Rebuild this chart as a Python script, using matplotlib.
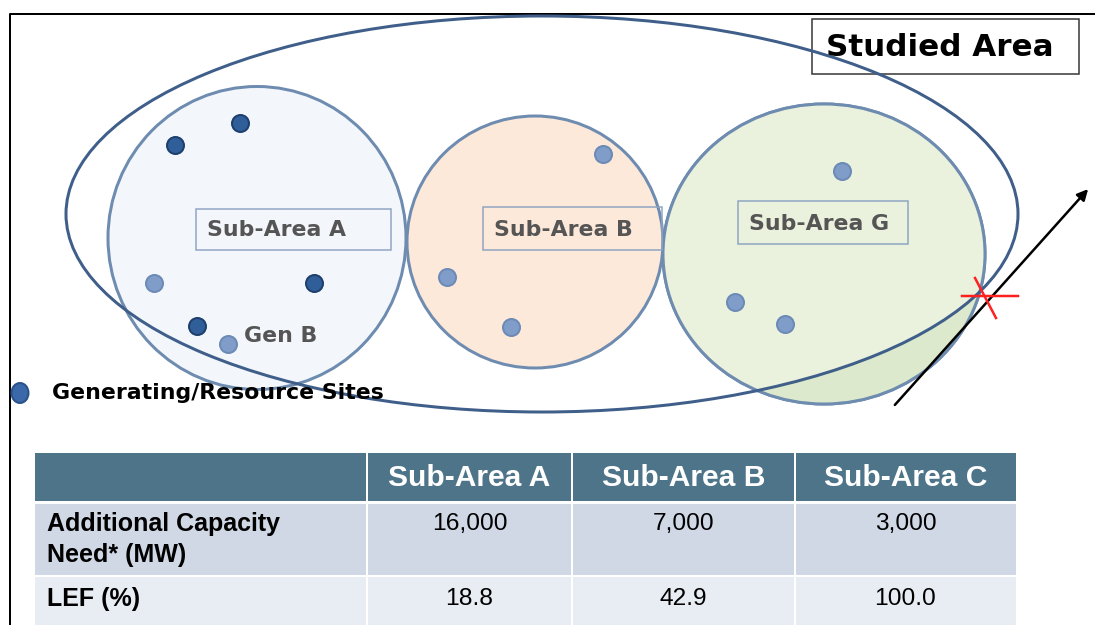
import matplotlib
matplotlib.use("Agg")
import matplotlib.pyplot as plt
from matplotlib.patches import Ellipse, Rectangle, FancyArrowPatch

# ---- data ----
sub_areas = ["Sub-Area A", "Sub-Area B", "Sub-Area C"]
row_labels = ["Additional Capacity\nNeed* (MW)", "LEF (%)"]
capacity_need = ["16,000", "7,000", "3,000"]
lef_pct = ["18.8", "42.9", "100.0"]
diagram_labels = ["Sub-Area A", "Sub-Area B", "Sub-Area G"]
dark_sites_x = [175, 240, 314, 197]
dark_sites_y = [145, 123, 283, 326]
light_sites_x = [154, 228, 603, 447, 511, 842, 735, 785]
light_sites_y = [283, 344, 154, 277, 327, 171, 302, 324]

W, H = 1095, 625
fig = plt.figure(figsize=(W / 100, H / 100), dpi=100)
ax = fig.add_axes([0, 0, 1, 1])
ax.set_xlim(0, W)
ax.set_ylim(H, 0)
ax.axis("off")

px = 0.72  # px -> pt

# frame
ax.plot([9.5, 9.5, W], [H, 13.5, 13.5], color="black", lw=2 * px, zorder=1)

edge = "#6E8BB0"
# sub-area circles
ax.add_patch(Ellipse((257, 238), 298, 303, facecolor="#F3F7FC", edgecolor=edge, lw=3 * px, zorder=2))
ax.add_patch(Ellipse((535, 242), 256, 252, facecolor="#FDE9DA", edgecolor=edge, lw=3 * px, zorder=2))
g = Ellipse((824, 254), 322, 300, facecolor="#EAF2DD", edgecolor=edge, lw=3 * px, zorder=2)
ax.add_patch(g)
# darker part of G outside studied area
big = Ellipse((542, 214), 952, 396, facecolor="none", edgecolor="#3F5F8A", lw=3 * px, zorder=5)
outer = Rectangle((660, 240), 340, 170, facecolor="#DDE9CC", edgecolor="none", zorder=2.5)
ax.add_patch(outer)
outer.set_clip_path(g)
inner = Ellipse((542, 214), 952, 396, facecolor="#EAF2DD", edgecolor="none", zorder=2.6)
ax.add_patch(inner)
inner.set_clip_path(g)
# redraw G edge on top of fills
ax.add_patch(Ellipse((824, 254), 322, 300, facecolor="none", edgecolor=edge, lw=3 * px, zorder=3))
ax.add_patch(big)

# label boxes
boxes = [(196, 209, 195, 41), (483, 207, 179, 43), (738, 201, 170, 43)]
for (bx, by, bw, bh), lab in zip(boxes, diagram_labels):
    ax.add_patch(Rectangle((bx, by), bw, bh, facecolor="none", edgecolor="#8EA4C2", lw=1.5 * px, zorder=4))
    ax.text(bx + 11, by + bh / 2 + 1, lab, fontsize=22 * px, fontweight="bold", color="#555555",
            ha="left", va="center", family="DejaVu Sans", zorder=6)

# Studied Area box
ax.add_patch(Rectangle((812, 19), 267, 55, facecolor="white", edgecolor="#333333", lw=1.5 * px, zorder=4))
ax.text(826, 47, "Studied Area", fontsize=31 * px, fontweight="bold", color="black",
        ha="left", va="center", family="DejaVu Sans", zorder=6)

# sites
ax.scatter(dark_sites_x, dark_sites_y, s=(17 * px) ** 2, color="#2F5E99", edgecolors="#1E3F6C",
           linewidths=2 * px, zorder=7)
ax.scatter(light_sites_x, light_sites_y, s=(17 * px) ** 2, color="#7F9DC8", edgecolors="#6B8AB6",
           linewidths=2 * px, zorder=7)
ax.text(244, 336, "Gen B", fontsize=22 * px, fontweight="bold", color="#555555",
        ha="left", va="center", family="DejaVu Sans", zorder=6)

# legend
ax.add_patch(Ellipse((20, 393), 17, 20, facecolor="#3A68A8", edgecolor="#2B5288", lw=2 * px, zorder=7))
ax.text(52, 393, "Generating/Resource Sites", fontsize=22 * px, fontweight="bold", color="black",
        ha="left", va="center", family="DejaVu Sans", zorder=6)

# arrow and red cross
ax.add_patch(FancyArrowPatch((893, 407), (1090, 187), arrowstyle="-|>", mutation_scale=16,
                             color="black", lw=2.5 * px, zorder=8))
ax.plot([962, 1018], [296, 296], color="#FF2020", lw=2.5 * px, zorder=8)
ax.plot([975, 996], [278, 318], color="#FF2020", lw=2.5 * px, zorder=8)

# ---- table ----
col_edges = [35, 367, 572, 795, 1016]
hdr_top, hdr_bot = 453, 501
row_tops = [504, 577]
row_bots = [575, 625]
ax.add_patch(Rectangle((col_edges[0], hdr_top), col_edges[-1] - col_edges[0], hdr_bot - hdr_top,
                       facecolor="#4E7489", edgecolor="none", zorder=2))
row_colors = ["#D0D8E6", "#E8EDF4"]
for t, b, c in zip(row_tops, row_bots, row_colors):
    ax.add_patch(Rectangle((col_edges[0], t), col_edges[-1] - col_edges[0], b - t,
                           facecolor=c, edgecolor="none", zorder=2))
for xe in col_edges[1:-1]:
    ax.plot([xe, xe], [hdr_top, H], color="white", lw=2 * px, zorder=3)
for i, name in enumerate(sub_areas):
    cx = (col_edges[i + 1] + col_edges[i + 2]) / 2
    ax.text(cx, (hdr_top + hdr_bot) / 2 + 1, name, fontsize=30 * px, fontweight="bold", color="white",
            ha="center", va="center", family="Liberation Sans", zorder=4)
row_values = [capacity_need, lef_pct]
row_text_y = [524, 599]
line_gap = 31
for lab, vals, ty in zip(row_labels, row_values, row_text_y):
    for k, line in enumerate(lab.split("\n")):
        ax.text(47, ty + k * line_gap, line, fontsize=25 * px, fontweight="bold", color="black",
                ha="left", va="center", family="Liberation Sans", zorder=4)
    for i, v in enumerate(vals):
        cx = (col_edges[i + 1] + col_edges[i + 2]) / 2
        ax.text(cx, ty, v, fontsize=24.5 * px, color="black", ha="center", va="center",
                family="Liberation Sans", zorder=4)

fig.savefig("out.png", dpi=100)
